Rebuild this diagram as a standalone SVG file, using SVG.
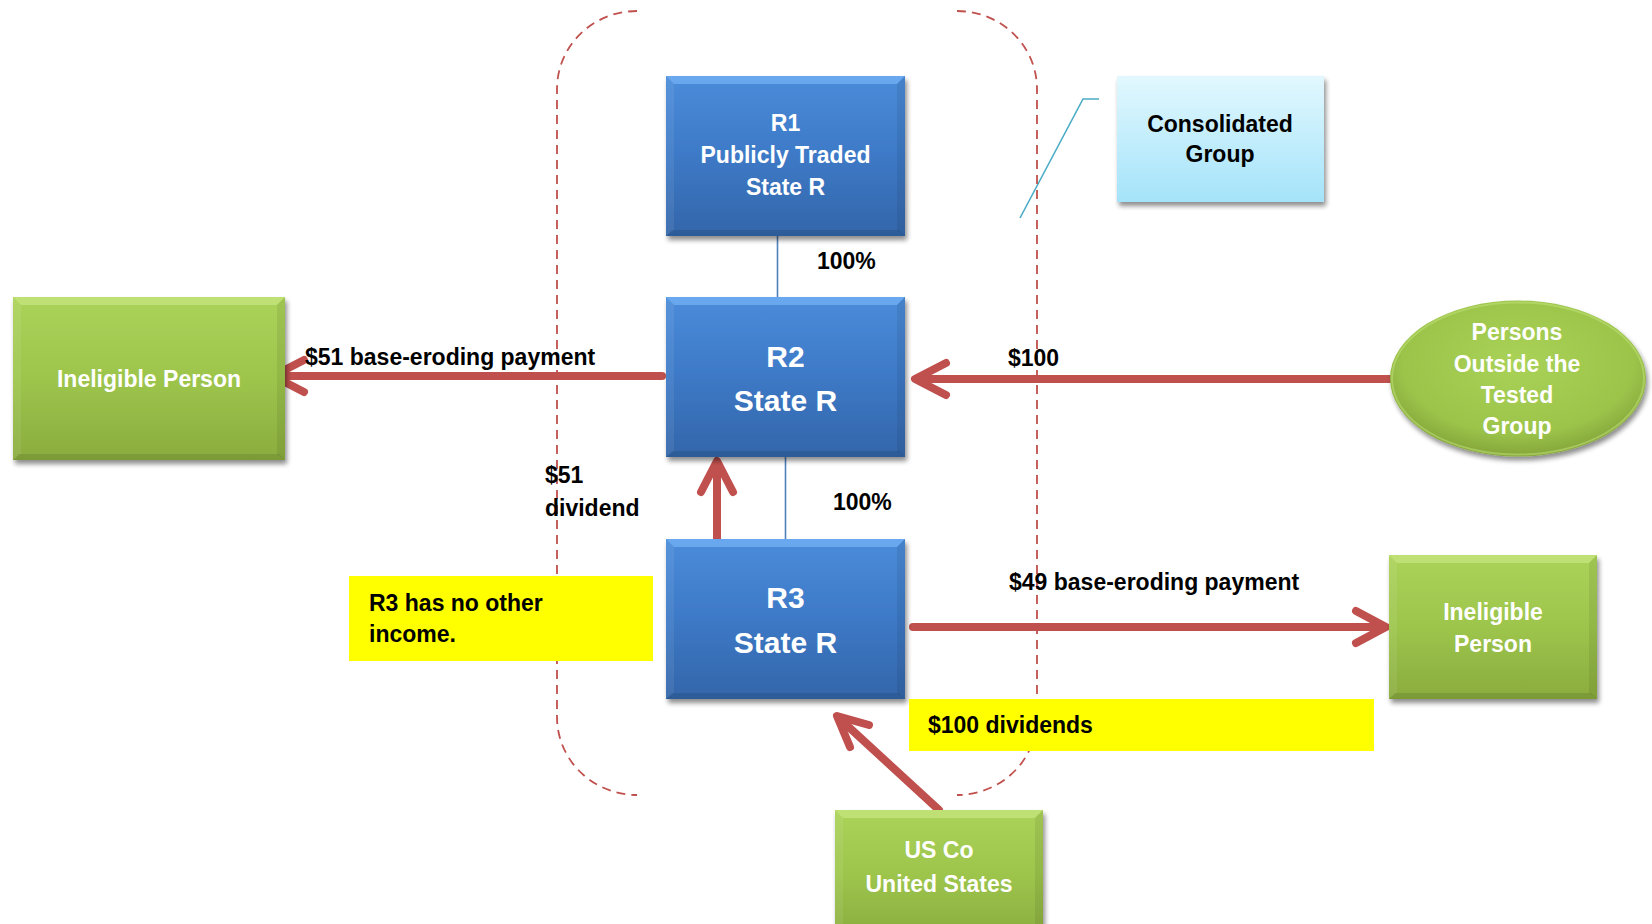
<svg xmlns="http://www.w3.org/2000/svg" width="1652" height="924" viewBox="0 0 1652 924">
  <defs>
    <linearGradient id="blueFill" x1="0" y1="0" x2="0" y2="1">
      <stop offset="0" stop-color="#4a8cda"/>
      <stop offset="0.5" stop-color="#3d79c6"/>
      <stop offset="1" stop-color="#3366aa"/>
    </linearGradient>
    <linearGradient id="greenFill" x1="0" y1="0" x2="0" y2="1">
      <stop offset="0" stop-color="#abd35a"/>
      <stop offset="0.5" stop-color="#9dc54c"/>
      <stop offset="1" stop-color="#8aac3e"/>
    </linearGradient>
    <linearGradient id="cyanFill" x1="0" y1="0" x2="0" y2="1">
      <stop offset="0" stop-color="#e2f8fe"/>
      <stop offset="1" stop-color="#a4e3fa"/>
    </linearGradient>
    <radialGradient id="ovalFill" cx="0.5" cy="0.4" r="0.6">
      <stop offset="0" stop-color="#a9d257"/>
      <stop offset="0.75" stop-color="#9cc44a"/>
      <stop offset="1" stop-color="#84a53a"/>
    </radialGradient>
    <filter id="shadow" x="-10%" y="-10%" width="125%" height="130%">
      <feGaussianBlur in="SourceAlpha" stdDeviation="2.5"/>
      <feOffset dx="2" dy="4" result="b"/>
      <feComponentTransfer><feFuncA type="linear" slope="0.45"/></feComponentTransfer>
      <feMerge><feMergeNode/><feMergeNode in="SourceGraphic"/></feMerge>
    </filter>
    <style>
      .txt { font-family: "Liberation Sans", Arial, sans-serif; font-weight: bold; }
      .w { fill: #ffffff; text-anchor: middle; font-size: 23px; }
      .big { font-size: 30px; }
      .k { fill: #000000; font-size: 23px; }
      .kc { text-anchor: middle; }
      .blue { fill: url(#blueFill); }
      .green { fill: url(#greenFill); }
      .bevTopB { fill: #72aef2; opacity: 0.8; }
      .bevTopG { fill: #c4e47c; opacity: 0.8; }
      .bevSide { fill: #ffffff; opacity: 0.07; }
      .bevRight { fill: #000000; opacity: 0.07; }
      .bevBot { fill: #000000; opacity: 0.1; }
      .flow { stroke: #c0504d; stroke-width: 8; fill: none; stroke-linecap: round; stroke-linejoin: round; }
      .own { stroke: #4f81bd; stroke-width: 1.6; fill: none; }
      .group { stroke: #c0504d; stroke-width: 1.8; fill: none; stroke-dasharray: 9 6; }
      .note { fill: #ffff00; }
    </style>
  </defs>

  <!-- flows of payments and ownership lines -->
  <g id="connectors">
    <line class="own" x1="777.5" y1="236" x2="777.5" y2="297"/>
    <line class="own" x1="785.5" y1="457" x2="785.5" y2="539"/>
    <polyline points="1020,218 1083,99 1099,99" fill="none" stroke="#4bacc6" stroke-width="1.6"/>

    <line class="flow" x1="662" y1="376" x2="275" y2="376"/>
    <polyline class="flow" points="304,360 273,376 304,392"/>

    <line class="flow" x1="1390" y1="379" x2="918" y2="379"/>
    <polyline class="flow" points="946,363 915,379 946,395"/>

    <line class="flow" x1="717" y1="539" x2="717" y2="464"/>
    <polyline class="flow" points="701,492 717,461 733,492"/>

    <line class="flow" x1="913" y1="627" x2="1383" y2="627"/>
    <polyline class="flow" points="1356,611 1386,627 1356,643"/>

    <line class="flow" x1="939" y1="810" x2="840" y2="719"/>
    <polyline class="flow" points="850,747 837,716 869,725"/>
  </g>

  <!-- consolidated group boundary -->
  <g id="group-boundary">
    <path class="group" d="M637,11 A80,78 0 0 0 557,89 L557,717 A80,78 0 0 0 637,795"/>
    <path class="group" d="M957,11 A80,78 0 0 1 1037,89 L1037,717 A80,78 0 0 1 957,795"/>
  </g>

  <g id="r1">
    <g filter="url(#shadow)"><rect class="blue" x="666" y="76" width="239" height="160"/></g>
    <path class="bevTopB" d="M666,76 H905 L897,84 H674 Z"/>
    <path class="bevSide" d="M666,76 L674,84 V230 L666,236 Z"/>
    <path class="bevRight" d="M905,76 L897,84 V230 L905,236 Z"/>
    <path class="bevBot" d="M666,236 L672,230 H899 L905,236 Z"/>
    <text class="txt w" x="785.5" y="131">R1</text>
    <text class="txt w" x="785.5" y="163">Publicly Traded</text>
    <text class="txt w" x="785.5" y="195">State R</text>
  </g>

  <g id="r2">
    <g filter="url(#shadow)"><rect class="blue" x="666" y="297" width="239" height="160"/></g>
    <path class="bevTopB" d="M666,297 H905 L897,305 H674 Z"/>
    <path class="bevSide" d="M666,297 L674,305 V451 L666,457 Z"/>
    <path class="bevRight" d="M905,297 L897,305 V451 L905,457 Z"/>
    <path class="bevBot" d="M666,457 L672,451 H899 L905,457 Z"/>
    <text class="txt w big" x="785.5" y="367">R2</text>
    <text class="txt w big" x="785.5" y="411">State R</text>
  </g>

  <g id="r3">
    <g filter="url(#shadow)"><rect class="blue" x="666" y="539" width="239" height="160"/></g>
    <path class="bevTopB" d="M666,539 H905 L897,547 H674 Z"/>
    <path class="bevSide" d="M666,539 L674,547 V693 L666,699 Z"/>
    <path class="bevRight" d="M905,539 L897,547 V693 L905,699 Z"/>
    <path class="bevBot" d="M666,699 L672,693 H899 L905,699 Z"/>
    <text class="txt w big" x="785.5" y="608">R3</text>
    <text class="txt w big" x="785.5" y="653">State R</text>
  </g>

  <g id="ineligible-left">
    <g filter="url(#shadow)"><rect class="green" x="13" y="297" width="272" height="163"/></g>
    <path class="bevTopG" d="M13,297 H285 L277,305 H21 Z"/>
    <path class="bevSide" d="M13,297 L21,305 V454 L13,460 Z"/>
    <path class="bevRight" d="M285,297 L277,305 V454 L285,460 Z"/>
    <path class="bevBot" d="M13,460 L19,454 H279 L285,460 Z"/>
    <text class="txt w" x="149" y="387">Ineligible Person</text>
  </g>

  <g id="outside-persons">
    <g filter="url(#shadow)"><ellipse cx="1518" cy="378.5" rx="128" ry="78" fill="url(#ovalFill)"/></g>
    <ellipse cx="1518" cy="378.5" rx="126" ry="76" fill="none" stroke="#c4e47c" stroke-width="2" opacity="0.5"/>
    <text class="txt w" x="1517" y="340">Persons</text>
    <text class="txt w" x="1517" y="372">Outside the</text>
    <text class="txt w" x="1517" y="403">Tested</text>
    <text class="txt w" x="1517" y="434">Group</text>
  </g>

  <g id="ineligible-right">
    <g filter="url(#shadow)"><rect class="green" x="1389" y="555" width="208" height="144"/></g>
    <path class="bevTopG" d="M1389,555 H1597 L1589,563 H1397 Z"/>
    <path class="bevSide" d="M1389,555 L1397,563 V693 L1389,699 Z"/>
    <path class="bevRight" d="M1597,555 L1589,563 V693 L1597,699 Z"/>
    <path class="bevBot" d="M1389,699 L1395,693 H1591 L1597,699 Z"/>
    <text class="txt w" x="1493" y="620">Ineligible</text>
    <text class="txt w" x="1493" y="652">Person</text>
  </g>

  <g id="us-co">
    <g filter="url(#shadow)"><rect class="green" x="835" y="810" width="208" height="130"/></g>
    <path class="bevTopG" d="M835,810 H1043 L1035,818 H843 Z"/>
    <path class="bevSide" d="M835,810 L843,818 V940 L835,940 Z"/>
    <path class="bevRight" d="M1043,810 L1035,818 V940 L1043,940 Z"/>
    <text class="txt w" x="939" y="858">US Co</text>
    <text class="txt w" x="939" y="892">United States</text>
  </g>

  <g id="consolidated-group">
    <g filter="url(#shadow)"><rect x="1117" y="76" width="207" height="126" fill="url(#cyanFill)"/></g>
    <text class="txt k kc" x="1220" y="132">Consolidated</text>
    <text class="txt k kc" x="1220" y="162">Group</text>
  </g>

  <g id="note-r3">
    <rect class="note" x="349" y="576" width="304" height="85"/>
    <text class="txt k" x="369" y="611">R3 has no other</text>
    <text class="txt k" x="369" y="642">income.</text>
  </g>

  <g id="note-dividends">
    <rect class="note" x="909" y="699" width="465" height="52"/>
    <text class="txt k" x="928" y="733">$100 dividends</text>
  </g>

  <g id="labels">
    <text class="txt k" x="817" y="269">100%</text>
    <text class="txt k" x="833" y="510">100%</text>
    <text class="txt k" x="305" y="365">$51 base-eroding payment</text>
    <text class="txt k" x="1008" y="366">$100</text>
    <text class="txt k" x="545" y="483">$51</text>
    <text class="txt k" x="545" y="516">dividend</text>
    <text class="txt k" x="1009" y="590">$49 base-eroding payment</text>
  </g>
</svg>
